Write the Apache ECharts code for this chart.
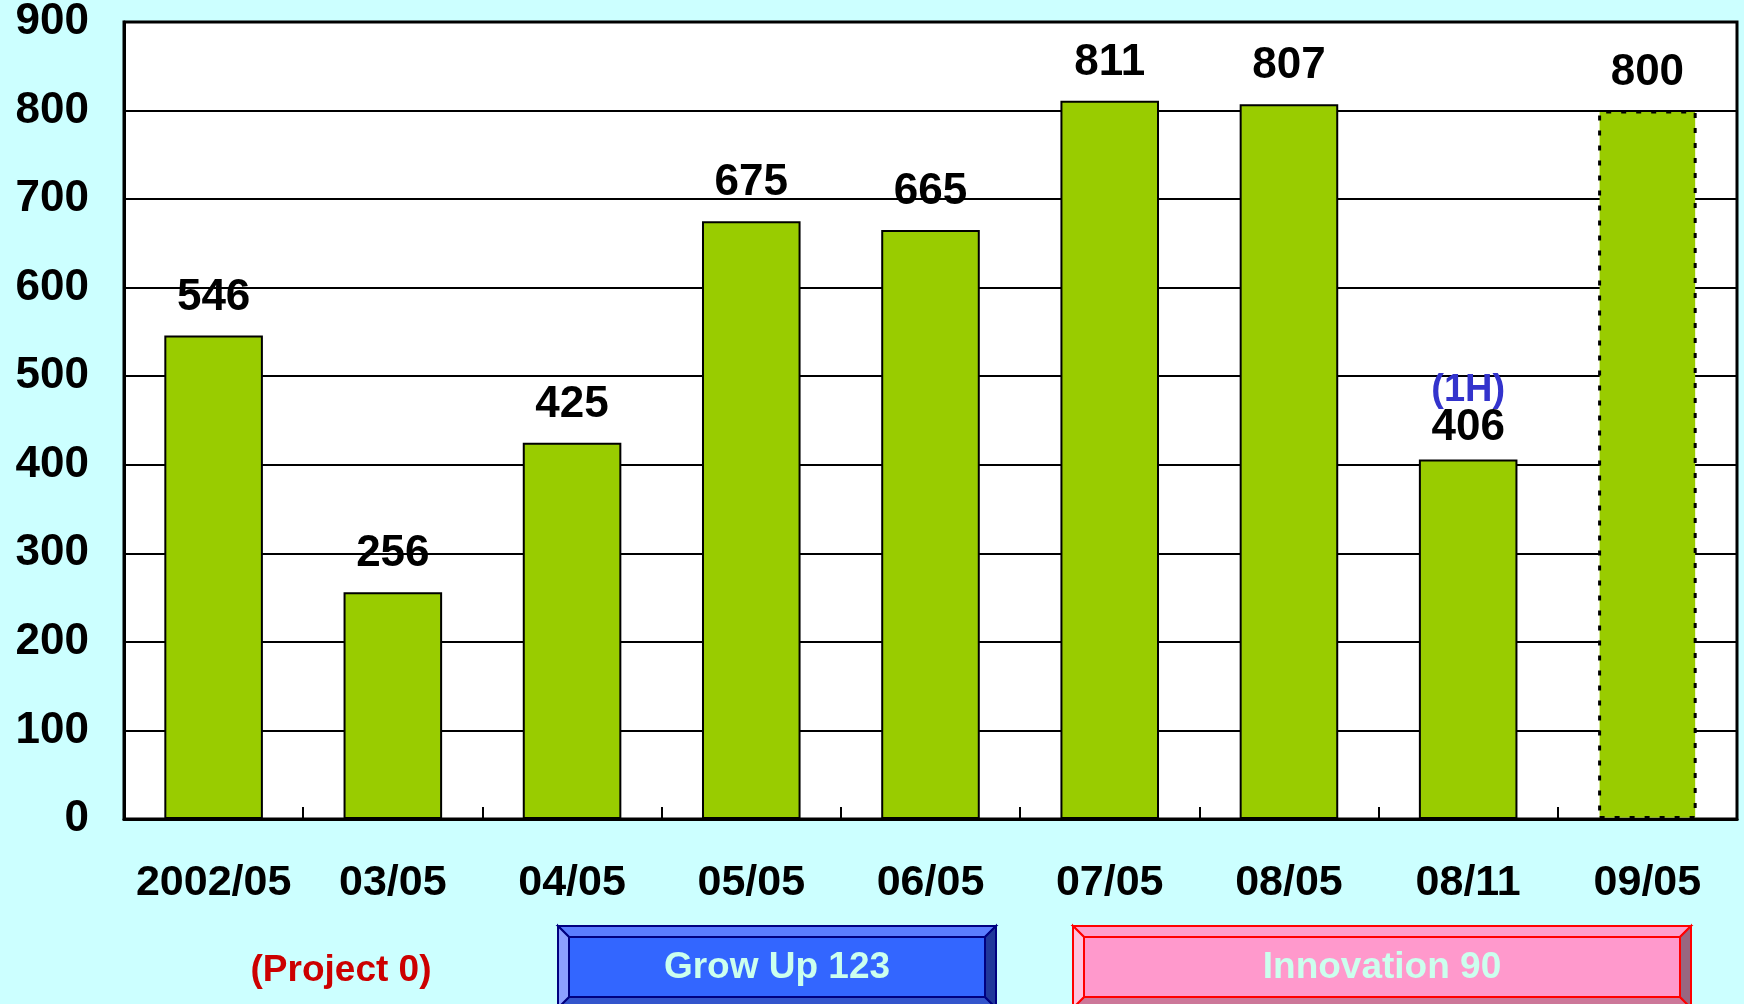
<!DOCTYPE html>
<html>
<head>
<meta charset="utf-8">
<script src="https://cdn.jsdelivr.net/npm/echarts@6/dist/echarts.min.js"></script>
<style>
html,body{margin:0;padding:0;background:#CCFFFF;}
#chart{width:1744px;height:1004px;}
</style>
</head>
<body>
<div id="chart"></div>
<script>
// ---- data ----
var categories = ['2002/05', '03/05', '04/05', '05/05', '06/05', '07/05', '08/05', '08/11', '09/05'];
var values = [546, 256, 425, 675, 665, 811, 807, 406, 800];
var labelNotes = ['', '', '', '', '', '', '', '(1H)', ''];
var forecastFlags = [false, false, false, false, false, false, false, false, true];
var yTicks = [0, 100, 200, 300, 400, 500, 600, 700, 800, 900];
var phaseLabels = ['(Project 0)', 'Grow Up 123', 'Innovation 90'];

var FONT = "'Liberation Sans', Arial, Helvetica, sans-serif";
var chart = echarts.init(document.getElementById('chart'), null, {renderer: 'canvas'});

var seriesData = values.map(function (v, i) {
  var item = {value: v};
  if (forecastFlags[i]) {
    item.itemStyle = {color: '#99CC00', borderColor: '#000', borderWidth: 3, borderType: [5, 10]};
  }
  if (labelNotes[i]) {
    item.label = {distance: 10};
  }
  return item;
});

function bevelBox(x0, y0, x1, y1, b, c, stroke, text, textColor) {
  var els = [];
  function poly(pts, fill) {
    els.push({type: 'polygon', shape: {points: pts}, style: {fill: fill, stroke: stroke, lineWidth: 2}, z: 10});
  }
  poly([[x0, y0], [x1, y0], [x1 - b, y0 + b], [x0 + b, y0 + b]], c.top);
  poly([[x0, y1], [x1, y1], [x1 - b, y1 - b], [x0 + b, y1 - b]], c.bottom);
  poly([[x0, y0], [x0 + b, y0 + b], [x0 + b, y1 - b], [x0, y1]], c.left);
  poly([[x1, y0], [x1 - b, y0 + b], [x1 - b, y1 - b], [x1, y1]], c.right);
  poly([[x0 + b, y0 + b], [x1 - b, y0 + b], [x1 - b, y1 - b], [x0 + b, y1 - b]], c.inner);
  els.push({type: 'text', x: (x0 + x1) / 2, y: 968, z: 11,
    style: {text: text, fill: textColor, font: 'bold 37px ' + FONT, textAlign: 'center', textVerticalAlign: 'middle'}});
  return els;
}

var graphics = [];
graphics.push({type: 'text', x: 341, y: 971, z: 11,
  style: {text: phaseLabels[0], fill: '#CC0000', font: 'bold 37px ' + FONT, textAlign: 'center', textVerticalAlign: 'middle'}});
graphics = graphics.concat(bevelBox(558, 926, 996, 1008, 11,
  {top: '#5A7DFF', bottom: '#3355CC', left: '#8C9FFF', right: '#20379A', inner: '#3366FF'},
  '#000080', phaseLabels[1], '#CCFFEE'));
graphics = graphics.concat(bevelBox(1073, 926, 1691, 1008, 11,
  {top: '#FF9ECC', bottom: '#CC7799', left: '#FFC2DE', right: '#996680', inner: '#FF99CC'},
  '#FF0000', phaseLabels[2], '#CCFFEE'));

var option = {
  backgroundColor: '#CCFFFF',
  animation: false,
  grid: {left: 124, right: 7, top: 22, bottom: 185, show: true, backgroundColor: '#FFFFFF', borderColor: '#000', borderWidth: 3},
  xAxis: {
    type: 'category',
    data: categories,
    axisLine: {lineStyle: {color: '#000', width: 3}},
    axisTick: {show: true, inside: true, length: 12, interval: 0, lineStyle: {color: '#000', width: 2}},
    axisLabel: {color: '#000', fontFamily: FONT, fontWeight: 'bold', fontSize: 43, lineHeight: 43, margin: 43, interval: 0}
  },
  yAxis: {
    type: 'value',
    min: yTicks[0],
    max: yTicks[yTicks.length - 1],
    interval: yTicks[1] - yTicks[0],
    axisLine: {show: true, lineStyle: {color: '#000', width: 3}},
    axisTick: {show: false},
    splitLine: {lineStyle: {color: '#000', width: 2}},
    axisLabel: {color: '#000', fontFamily: FONT, fontWeight: 'bold', fontSize: 44, margin: 35}
  },
  series: [{
    type: 'bar',
    data: seriesData,
    barWidth: '55%',
    itemStyle: {color: '#99CC00', borderColor: '#000', borderWidth: 2},
    label: {
      show: true,
      position: 'top',
      distance: 16,
      fontFamily: FONT,
      formatter: function (p) {
        var note = labelNotes[p.dataIndex];
        return note ? '{n|' + note + '}\n{v|' + p.value + '}' : '{v|' + p.value + '}';
      },
      rich: {
        v: {color: '#000', fontFamily: FONT, fontWeight: 'bold', fontSize: 44, lineHeight: 44},
        n: {color: '#3333CC', fontFamily: FONT, fontWeight: 'bold', fontSize: 38, lineHeight: 30}
      }
    }
  }],
  graphic: graphics
};
chart.setOption(option);
</script>
</body>
</html>
